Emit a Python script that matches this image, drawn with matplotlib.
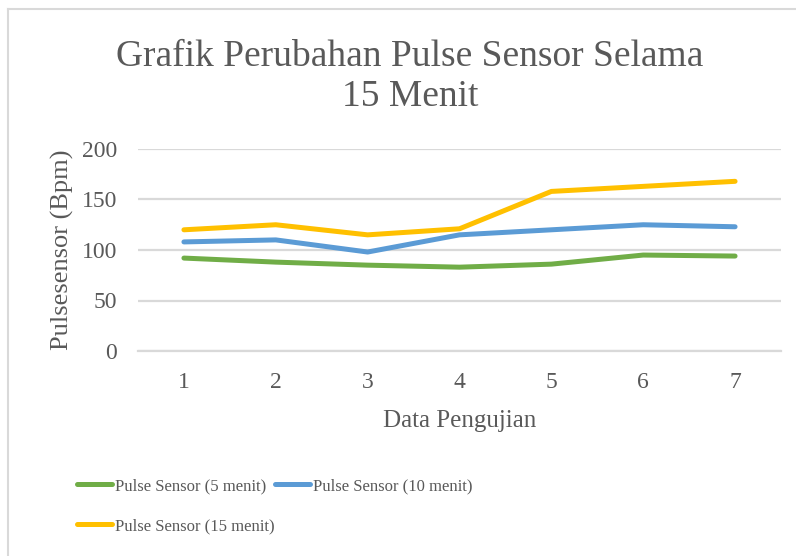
import matplotlib
matplotlib.use("Agg")
import matplotlib.pyplot as plt
from matplotlib.lines import Line2D

# data
tests = [1, 2, 3, 4, 5, 6, 7]
pulse_5 = [92, 88, 85, 83, 86, 95, 94]
pulse_10 = [108, 110, 98, 115, 120, 125, 123]
pulse_15 = [120, 125, 115, 121, 158, 163, 168]
labels = ["Pulse Sensor (5 menit)", "Pulse Sensor (10 menit)", "Pulse Sensor (15 menit)"]
colors = ["#70AD47", "#5B9BD5", "#FFC000"]
yticks = [0, 50, 100, 150, 200]

plt.rcParams["font.family"] = ["Liberation Serif", "DejaVu Serif"]
txt = "#595959"
grid = "#D9D9D9"
W, H = 796, 556

fig = plt.figure(figsize=(W / 100, H / 100), dpi=100)
ax = fig.add_axes([138 / W, 1 - 351 / H, (781 - 138) / W, (351 - 149) / H])

handles = []
for ys, lab, c in zip([pulse_5, pulse_10, pulse_15], labels, colors):
    h, = ax.plot(tests, ys, color=c, lw=3.6, solid_capstyle="round",
                 solid_joinstyle="round", label=lab, zorder=3)
    handles.append(h)

ax.set_xlim(0.5, 7.5)
ax.set_ylim(0, 200)
ax.set_xticks(tests)
ax.set_yticks(yticks)
ax.yaxis.grid(True, color=grid, lw=1.6)
ax.set_axisbelow(True)
for s in ["top", "right", "left"]:
    ax.spines[s].set_visible(False)
ax.spines["bottom"].set_color(grid)
ax.spines["bottom"].set_linewidth(1.6)
ax.tick_params(axis="both", length=0, colors=txt, labelsize=17)
ax.tick_params(axis="x", pad=15)
ax.tick_params(axis="y", pad=15)

ax.set_xlabel("Data Pengujian", fontsize=18, color=txt, labelpad=12)
ax.set_ylabel("Pulsesensor (Bpm)", fontsize=19, color=txt, labelpad=5.5)

fig.text(410 / W, 1 - 77 / H, "Grafik Perubahan Pulse Sensor Selama\n15 Menit",
         ha="center", va="center", fontsize=27, color=txt, linespacing=1.22)

# legend, row-wise order: 5, 10 on top row, 15 below
leg = fig.legend([handles[0], handles[2], handles[1]],
                 [labels[0], labels[2], labels[1]],
                 ncol=2, loc="upper left", bbox_to_anchor=(62 / W, 1 - 463 / H),
                 frameon=False, fontsize=12, handlelength=2.1, handletextpad=0.18,
                 columnspacing=0.0, labelspacing=1.45, labelcolor=txt)

# chart frame (right and bottom edges are cut off in the reference)
fig.add_artist(Line2D([8 / W, 8 / W], [0, 1 - 9 / H], color=grid, lw=1.5))
fig.add_artist(Line2D([8 / W, 1], [1 - 9 / H, 1 - 9 / H], color=grid, lw=1.5))

fig.savefig("out.png", dpi=100)
